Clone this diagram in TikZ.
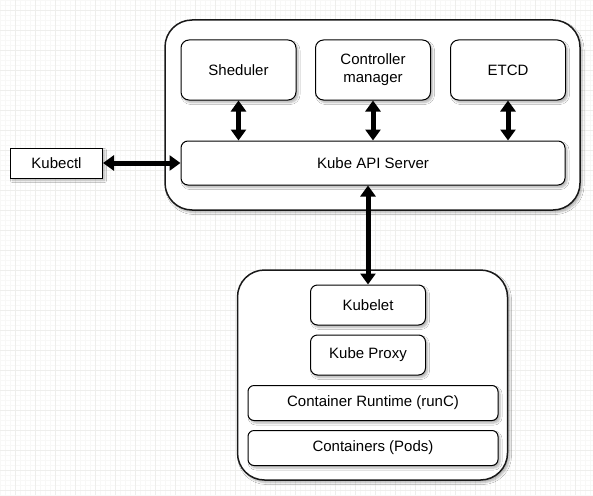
\documentclass[tikz,border=0pt]{standalone}
\usepackage{fontspec}
\setmainfont{Liberation Sans}
\usetikzlibrary{arrows.meta,shadows.blur}
\definecolor{gridminor}{HTML}{F8F8F7}
\definecolor{gridmajor}{HTML}{EEEEEC}
\tikzset{
  minorline/.style={draw=gridminor, line width=0.6pt},
  majorline/.style={draw=gridmajor, line width=0.9pt},
  shade box/.style={blur shadow={shadow xshift=2pt, shadow yshift=-2.5pt, shadow blur radius=2pt, shadow blur steps=6, shadow opacity=30}},
  outerbox/.style={draw=black!90, line width=1.5pt, fill=white, rounded corners=27pt, shade box, inner sep=0pt},
  compbox/.style={draw=black, line width=1pt, fill=white, rounded corners=8pt, shade box, inner sep=0pt, align=center, font=\fontsize{15}{18}\selectfont},
  flatbox/.style={compbox, rounded corners=0pt},
  dbl/.style={line width=5pt, {Triangle[length=11pt,width=15pt]}-{Triangle[length=11pt,width=15pt]}}
}
\begin{document}
\begin{tikzpicture}[x=1pt,y=-1pt]
\useasboundingbox (0,0) rectangle (593,495);
\fill[white] (0,0) rectangle (593,495);
% grid
\foreach \i in {0,5,...,590} \draw[minorline] (\i,0) -- (\i,495);
\foreach \j in {0,5,...,495} \draw[minorline] (0,\j) -- (593,\j);
\foreach \i in {15,35,...,575} \draw[majorline] (\i,0) -- (\i,495);
\foreach \j in {10,30,...,490} \draw[majorline] (0,\j) -- (593,\j);
% containers
\node[outerbox, minimum width=415, minimum height=190] (master) at (372.5,115) {};
\node[outerbox, minimum width=270, minimum height=210] (worker) at (372.5,375) {};
% master components
\node[compbox, minimum width=115, minimum height=60] (sch) at (238.5,70) {Sheduler};
\node[compbox, minimum width=115, minimum height=60] (ctrl) at (373,70) {Controller\\manager};
\node[compbox, minimum width=115, minimum height=60] (etcd) at (508,70) {ETCD};
\node[compbox, rounded corners=7pt, minimum width=384, minimum height=44] (api) at (373,163) {Kube API Server};
% kubectl
\node[flatbox, minimum width=92, minimum height=30] (kubectl) at (56.5,163) {Kubectl};
% worker components
\node[compbox, rounded corners=7pt, minimum width=115, minimum height=40] (kubelet) at (368,305) {Kubelet};
\node[compbox, rounded corners=7pt, minimum width=115, minimum height=40] (proxy) at (368,355) {Kube Proxy};
\node[compbox, rounded corners=6pt, minimum width=250, minimum height=35] (runtime) at (373,403) {Container Runtime (runC)};
\node[compbox, rounded corners=6pt, minimum width=250, minimum height=35] (pods) at (373,448) {Containers (Pods)};
% connectors
\draw[dbl] (sch.south) -- (sch.south |- api.north);
\draw[dbl] (ctrl.south) -- (ctrl.south |- api.north);
\draw[dbl] (etcd.south) -- (etcd.south |- api.north);
\draw[dbl] (kubectl.east) -- (kubectl.east -| api.west);
\draw[dbl] (kubelet.north |- api.south) -- (kubelet.north);
\end{tikzpicture}
\end{document}
